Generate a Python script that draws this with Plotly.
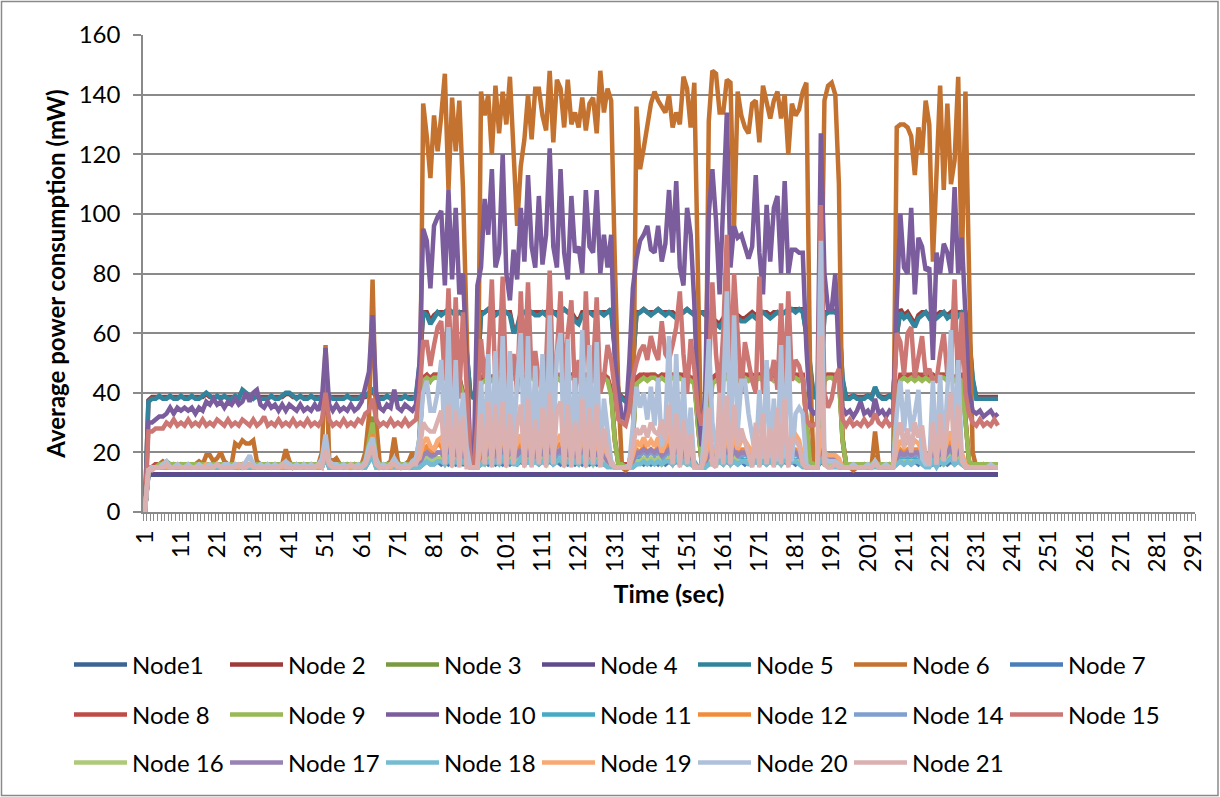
import plotly.graph_objects as go

# ---------------- data ----------------
time_sec = list(range(1, 238))
x_tick_labels = ["1", "11", "21", "31", "41", "51", "61", "71", "81", "91", "101", "111", "121",
                 "131", "141", "151", "161", "171", "181", "191", "201", "211", "221", "231",
                 "241", "251", "261", "271", "281", "291"]
y_tick_values = [0, 20, 40, 60, 80, 100, 120, 140, 160]

node1 = [0,
    12.5, 12.5, 12.5, 12.5, 12.5, 12.5, 12.5, 12.5, 12.5, 12.5,
    12.5, 12.5, 12.5, 12.5, 12.5, 12.5, 12.5, 12.5, 12.5, 12.5,
    12.5, 12.5, 12.5, 12.5, 12.5, 12.5, 12.5, 12.5, 12.5, 12.5,
    12.5, 12.5, 12.5, 12.5, 12.5, 12.5, 12.5, 12.5, 12.5, 12.5,
    12.5, 12.5, 12.5, 12.5, 12.5, 12.5, 12.5, 12.5, 12.5, 12.5,
    12.5, 12.5, 12.5, 12.5, 12.5, 12.5, 12.5, 12.5, 12.5, 12.5,
    12.5, 12.5, 12.5, 12.5, 12.5, 12.5, 12.5, 12.5, 12.5, 12.5,
    12.5, 12.5, 12.5, 12.5, 12.5, 12.5, 12.5, 12.5, 12.5, 12.5,
    12.5, 12.5, 12.5, 12.5, 12.5, 12.5, 12.5, 12.5, 12.5, 12.5,
    12.5, 12.5, 12.5, 12.5, 12.5, 12.5, 12.5, 12.5, 12.5, 12.5,
    12.5, 12.5, 12.5, 12.5, 12.5, 12.5, 12.5, 12.5, 12.5, 12.5,
    12.5, 12.5, 12.5, 12.5, 12.5, 12.5, 12.5, 12.5, 12.5, 12.5,
    12.5, 12.5, 12.5, 12.5, 12.5, 12.5, 12.5, 12.5, 12.5, 12.5,
    12.5, 12.5, 12.5, 12.5, 12.5, 12.5, 12.5, 12.5, 12.5, 12.5,
    12.5, 12.5, 12.5, 12.5, 12.5, 12.5, 12.5, 12.5, 12.5, 12.5,
    12.5, 12.5, 12.5, 12.5, 12.5, 12.5, 12.5, 12.5, 12.5, 12.5,
    12.5, 12.5, 12.5, 12.5, 12.5, 12.5, 12.5, 12.5, 12.5, 12.5,
    12.5, 12.5, 12.5, 12.5, 12.5, 12.5, 12.5, 12.5, 12.5, 12.5,
    12.5, 12.5, 12.5, 12.5, 12.5, 12.5, 12.5, 12.5, 12.5, 12.5,
    12.5, 12.5, 12.5, 12.5, 12.5, 12.5, 12.5, 12.5, 12.5, 12.5,
    12.5, 12.5, 12.5, 12.5, 12.5, 12.5, 12.5, 12.5, 12.5, 12.5,
    12.5, 12.5, 12.5, 12.5, 12.5, 12.5, 12.5, 12.5, 12.5, 12.5,
    12.5, 12.5, 12.5, 12.5, 12.5, 12.5, 12.5, 12.5, 12.5, 12.5,
    12.5, 12.5, 12.5, 12.5, 12.5, 12.5]

node2 = [0,
    37.5, 38.6, 38.6, 38.6, 38.6, 38.6, 38.6, 38.6, 38.6, 38.6, 38.6, 38.6, 38.6, 38.6,
    38.6, 38.6, 39.6, 38.6, 38.6, 38.6, 38.6, 38.6, 38.6, 38.6,
    38.6, 38.6, 40.6, 39.6, 38.6, 38.6, 38.6, 38.6, 38.6, 38.6,
    38.6, 38.6, 38.6, 38.6, 39.6, 39.6, 38.6, 38.6, 38.6, 38.6,
    38.6, 38.6, 38.6, 38.6, 38.6, 40.6, 38.6, 38.6, 38.6, 38.6,
    38.6, 38.6, 38.6, 38.6, 38.6, 38.6, 38.6, 39.6, 40.6, 38.6,
    38.6, 38.6, 38.6, 38.6, 38.6, 38.6, 38.6, 38.6, 38.6, 38.6, 38.6,
    48, 67, 67, 64, 66, 67, 67, 67, 68, 67, 67, 67, 67, 54, 40,
    38.6, 44,
    67, 67, 68, 67, 67, 67, 67, 67, 67, 61, 62, 67, 67, 67, 67, 67, 67, 67, 67, 68,
    67, 67, 67, 68, 67, 67, 65, 64, 67, 67, 67, 67, 67, 67, 67, 67, 68, 54,
    40, 38.6, 38, 38.6, 49,
    67, 67, 68, 67, 67, 67, 68, 67, 67, 67, 67, 66, 67, 67, 68, 67, 67, 67,
    67, 67, 66,
    65, 64, 63, 65, 67, 67, 67, 66, 65, 65, 66, 67, 66, 67, 67, 67, 66, 67, 67, 67,
    67, 68, 68, 68, 68, 68, 59, 49,
    38.6, 38.6,
    44, 67, 67, 68, 67, 67, 44,
    38.6, 38.6, 39, 38.6, 38.6, 38.6, 39, 38.6, 41.6, 39, 38.6, 38.6, 39, 38.6,
    59, 68, 66, 67, 65, 63, 66, 67, 67, 66, 67, 66, 67, 67, 66, 67, 65, 67, 67, 67, 59, 44,
    38.6, 38.6, 38.6, 38.6, 38.6, 38.6, 38.6]

node3 = [0,
    15, 15, 16, 16, 16, 17, 16, 16, 16, 16, 16, 16, 16, 16,
    16, 16, 16, 16, 16, 16, 16, 16, 16, 16,
    16, 16, 16, 16, 16, 16, 16, 16, 16, 16,
    16, 16, 16, 16, 16, 16, 16, 16, 16, 16,
    16, 16, 16, 16, 17, 22, 16, 16, 16, 16,
    16, 16, 16, 16, 16, 16, 18, 25, 32, 17,
    16, 16, 16, 16, 17, 16, 16, 16, 16, 16, 17,
    25, 45, 46, 44, 46, 46, 45, 46, 46, 45, 46, 45, 40, 25, 16,
    16, 16,
    44, 45, 46, 45, 46, 45, 46, 46, 45, 46, 45, 46, 45, 46, 46, 45, 46, 45, 46, 46,
    45, 46, 45, 46, 45, 46, 46, 45, 46, 45, 46, 45, 46, 45, 46, 45, 40, 25,
    16, 16, 15, 16, 25,
    44, 45, 46, 45, 46, 46, 45, 46, 45, 46, 46, 45, 46, 45, 46, 45, 44, 30,
    17, 16, 30,
    44, 45, 46, 45, 46, 45, 46, 45, 46, 46, 45, 46, 45, 46, 45, 46, 46, 45, 46, 45,
    46, 45, 46, 46, 45, 46, 30, 17,
    16, 16,
    30, 45, 46, 46, 45, 46, 25,
    16, 16, 16, 16, 16, 16, 16, 16, 18, 16, 16, 16, 16, 16,
    40, 45, 46, 45, 46, 45, 46, 45, 46, 45, 46, 45, 46, 46, 45, 46, 45, 46, 45, 30, 17, 16,
    16, 16, 16, 16, 16, 16, 16]

node4 = [0,
    12.7, 12.7, 12.7, 12.7, 12.7, 12.7, 12.7, 12.7, 12.7, 12.7,
    12.7, 12.7, 12.7, 12.7, 12.7, 12.7, 12.7, 12.7, 12.7, 12.7,
    12.7, 12.7, 12.7, 12.7, 12.7, 12.7, 12.7, 12.7, 12.7, 12.7,
    12.7, 12.7, 12.7, 12.7, 12.7, 12.7, 12.7, 12.7, 12.7, 12.7,
    12.7, 12.7, 12.7, 12.7, 12.7, 12.7, 12.7, 12.7, 12.7, 12.7,
    12.7, 12.7, 12.7, 12.7, 12.7, 12.7, 12.7, 12.7, 12.7, 12.7,
    12.7, 12.7, 12.7, 12.7, 12.7, 12.7, 12.7, 12.7, 12.7, 12.7,
    12.7, 12.7, 12.7, 12.7, 12.7, 12.7, 12.7, 12.7, 12.7, 12.7,
    12.7, 12.7, 12.7, 12.7, 12.7, 12.7, 12.7, 12.7, 12.7, 12.7,
    12.7, 12.7, 12.7, 12.7, 12.7, 12.7, 12.7, 12.7, 12.7, 12.7,
    12.7, 12.7, 12.7, 12.7, 12.7, 12.7, 12.7, 12.7, 12.7, 12.7,
    12.7, 12.7, 12.7, 12.7, 12.7, 12.7, 12.7, 12.7, 12.7, 12.7,
    12.7, 12.7, 12.7, 12.7, 12.7, 12.7, 12.7, 12.7, 12.7, 12.7,
    12.7, 12.7, 12.7, 12.7, 12.7, 12.7, 12.7, 12.7, 12.7, 12.7,
    12.7, 12.7, 12.7, 12.7, 12.7, 12.7, 12.7, 12.7, 12.7, 12.7,
    12.7, 12.7, 12.7, 12.7, 12.7, 12.7, 12.7, 12.7, 12.7, 12.7,
    12.7, 12.7, 12.7, 12.7, 12.7, 12.7, 12.7, 12.7, 12.7, 12.7,
    12.7, 12.7, 12.7, 12.7, 12.7, 12.7, 12.7, 12.7, 12.7, 12.7,
    12.7, 12.7, 12.7, 12.7, 12.7, 12.7, 12.7, 12.7, 12.7, 12.7,
    12.7, 12.7, 12.7, 12.7, 12.7, 12.7, 12.7, 12.7, 12.7, 12.7,
    12.7, 12.7, 12.7, 12.7, 12.7, 12.7, 12.7, 12.7, 12.7, 12.7,
    12.7, 12.7, 12.7, 12.7, 12.7, 12.7, 12.7, 12.7, 12.7, 12.7,
    12.7, 12.7, 12.7, 12.7, 12.7, 12.7, 12.7, 12.7, 12.7, 12.7,
    12.7, 12.7, 12.7, 12.7, 12.7, 12.7]

node5 = [0,
    37, 38, 38, 39, 38, 38, 39, 38, 38, 39, 38, 38, 39, 38,
    38, 39, 40, 39, 38, 39, 38, 39, 38, 38,
    39, 38, 41, 40, 39, 38, 39, 38, 38, 38,
    39, 38, 38, 39, 40, 40, 39, 38, 39, 38,
    38, 39, 38, 38, 39, 41, 39, 38, 38, 38,
    38, 39, 38, 38, 38, 39, 39, 40, 41, 39,
    38, 38, 39, 38, 39, 38, 38, 39, 38, 38, 39,
    50, 67, 66, 63, 65, 67, 66, 67, 68, 67, 66, 67, 66, 55, 40,
    38, 45,
    66, 67, 68, 67, 66, 67, 66, 67, 66, 60, 62, 66, 67, 66, 67, 66, 66, 67, 66, 68,
    67, 66, 67, 68, 67, 66, 64, 63, 66, 67, 67, 66, 67, 67, 66, 67, 68, 55,
    40, 38, 37, 38, 50,
    66, 67, 68, 67, 66, 67, 68, 67, 66, 67, 66, 65, 66, 67, 68, 67, 66, 67,
    67, 66, 65,
    64, 63, 62, 64, 66, 67, 66, 65, 64, 64, 65, 66, 65, 66, 67, 66, 65, 66, 67, 66,
    67, 67, 68, 67, 68, 67, 60, 50,
    39, 38,
    45, 66, 67, 67, 67, 66, 45,
    38, 38, 39, 38, 38, 38, 39, 38, 42, 39, 38, 38, 39, 38,
    60, 67, 65, 66, 64, 62, 65, 66, 67, 65, 66, 65, 66, 67, 65, 66, 64, 66, 67, 66, 60, 45,
    38, 38, 38, 38, 38, 38, 38]

node6 = [0,
    15, 15, 16, 16, 17, 16, 15, 16, 15, 16, 15, 16, 15, 16,
    17, 16, 19, 19, 17, 18, 20, 17, 16, 16,
    23, 22, 24, 23, 23, 24, 17, 16, 15, 16,
    15, 16, 15, 16, 21, 17, 15, 16, 15, 16,
    15, 16, 15, 16, 20, 56, 18, 17, 18, 16,
    15, 16, 15, 16, 15, 16, 20, 32, 78, 30,
    16, 15, 16, 17, 25, 17, 15, 16, 17, 20, 16,
    20, 137, 126, 112, 133, 121, 133, 147, 108, 139, 121, 138, 109, 55, 16,
    15, 16,
    141, 133, 140, 120, 143, 127, 141, 130, 146, 117, 96, 116, 125, 140, 125, 142, 142, 133, 128, 148,
    124, 145, 142, 129, 145, 130, 134, 129, 139, 128, 137, 139, 127, 148, 134, 142, 138, 85,
    40, 15, 14, 15, 16,
    136, 115, 122, 129, 137, 141, 138, 136, 134, 140, 129, 134, 130, 146, 142, 129, 144, 80,
    16, 15, 131,
    148, 147, 134, 134, 145, 144, 96, 141, 133, 129, 127, 137, 138, 124, 143, 138, 132, 138, 141, 132,
    140, 120, 137, 133, 135, 141, 144, 50,
    15, 15,
    60, 138, 143, 144, 140, 110, 25,
    15, 15, 14, 15, 15, 16, 15, 15, 27, 16, 15, 15, 16, 15,
    129, 130, 130, 129, 126, 113, 129, 120, 138, 130, 84, 113, 143, 108, 137, 110, 118, 146, 81, 141, 75, 20,
    15, 15, 16, 15, 15, 15, 15]

node7 = [0,
    14, 15, 15, 15, 15, 15, 15, 15, 15, 15, 15, 15, 15, 15,
    15, 15, 15, 15, 15, 15, 15, 15, 15, 15,
    15, 15, 15, 15, 15, 15, 15, 15, 15, 15,
    15, 15, 15, 15, 15, 15, 15, 15, 15, 15,
    15, 15, 15, 15, 15, 18, 15, 15, 15, 15,
    15, 15, 15, 15, 15, 15, 15, 17, 19, 15,
    15, 15, 15, 15, 15, 15, 15, 15, 15, 15, 15,
    15, 16, 17, 16, 16, 17, 16, 17, 16, 17, 16, 17, 16, 16, 15,
    15, 15,
    16, 17, 16, 17, 16, 17, 16, 17, 16, 17, 16, 17, 16, 17, 16, 17, 16, 17, 16, 17,
    16, 17, 16, 17, 16, 17, 16, 17, 16, 17, 16, 17, 16, 17, 16, 17, 16, 15,
    15, 15, 15, 15, 15,
    16, 17, 16, 17, 16, 17, 16, 17, 16, 17, 16, 17, 16, 17, 16, 17, 16, 15,
    15, 15, 16,
    17, 16, 17, 16, 17, 16, 17, 16, 17, 16, 17, 16, 17, 16, 17, 16, 17, 16, 17, 16,
    17, 16, 17, 16, 17, 16, 15, 15,
    15, 15,
    17, 16, 16, 16, 16, 15, 15,
    15, 15, 15, 15, 15, 15, 15, 15, 16, 15, 15, 15, 15, 15,
    16, 17, 16, 17, 16, 17, 16, 17, 16, 17, 16, 17, 16, 17, 16, 17, 16, 17, 16, 15, 15, 15,
    15, 15, 15, 15, 15, 15, 15]

node8 = [0,
    15, 15, 16, 16, 16, 16, 16, 16, 16, 16, 16, 16, 16, 16,
    16, 16, 16, 16, 16, 16, 16, 16, 16, 16,
    16, 16, 16, 16, 16, 16, 16, 16, 16, 16,
    16, 16, 16, 16, 16, 16, 16, 16, 16, 16,
    16, 16, 16, 16, 16, 20, 16, 16, 16, 16,
    16, 16, 16, 16, 16, 16, 17, 22, 28, 16,
    16, 16, 16, 16, 16, 16, 16, 16, 16, 16, 16,
    24, 45, 46, 45, 46, 46, 45, 46, 46, 45, 46, 45, 40, 24, 16,
    16, 16,
    45, 46, 46, 45, 46, 46, 46, 46, 45, 46, 46, 46, 45, 46, 46, 46, 46, 45, 46, 46,
    45, 46, 46, 46, 45, 46, 46, 45, 46, 46, 46, 45, 46, 46, 46, 45, 41, 24,
    16, 16, 16, 16, 24,
    45, 46, 46, 46, 46, 46, 45, 46, 46, 46, 46, 45, 46, 46, 46, 45, 45, 29,
    17, 16, 29,
    45, 46, 46, 45, 46, 46, 46, 45, 46, 46, 46, 46, 45, 46, 46, 46, 46, 45, 46, 46,
    46, 45, 46, 46, 46, 46, 30, 17,
    16, 16,
    29, 46, 46, 46, 46, 46, 24,
    16, 16, 16, 16, 16, 16, 16, 16, 17, 16, 16, 16, 16, 16,
    39, 46, 46, 46, 46, 45, 46, 46, 46, 46, 46, 45, 46, 46, 46, 46, 45, 46, 46, 30, 17, 16,
    16, 16, 16, 16, 16, 16, 16]

node9 = [0,
    15, 15, 15, 16, 16, 16, 16, 16, 16, 16, 16, 16, 16, 16,
    16, 16, 16, 16, 16, 16, 16, 16, 16, 16,
    16, 16, 16, 16, 16, 16, 16, 16, 16, 16,
    16, 16, 16, 16, 16, 16, 16, 16, 16, 16,
    16, 16, 16, 16, 17, 21, 16, 16, 16, 16,
    16, 16, 16, 16, 16, 16, 17, 24, 30, 17,
    16, 16, 16, 16, 17, 16, 16, 16, 16, 16, 16,
    24, 44, 45, 44, 45, 45, 44, 45, 45, 44, 45, 44, 39, 24, 16,
    16, 16,
    43, 44, 45, 44, 45, 44, 45, 45, 44, 45, 44, 45, 44, 45, 45, 44, 45, 44, 45, 45,
    44, 45, 44, 45, 44, 45, 45, 44, 45, 44, 45, 44, 45, 44, 45, 44, 39, 24,
    16, 16, 15, 16, 24,
    43, 44, 45, 44, 45, 45, 44, 45, 44, 45, 45, 44, 45, 44, 45, 44, 43, 29,
    17, 16, 29,
    43, 44, 45, 44, 45, 44, 45, 44, 45, 45, 44, 45, 44, 45, 44, 45, 45, 44, 45, 44,
    45, 44, 45, 45, 44, 45, 29, 17,
    16, 16,
    29, 44, 45, 45, 44, 45, 24,
    16, 16, 16, 16, 16, 16, 16, 16, 17, 16, 16, 16, 16, 16,
    39, 44, 45, 44, 45, 44, 45, 44, 45, 44, 45, 44, 45, 45, 44, 45, 44, 45, 44, 29, 17, 16,
    16, 16, 16, 16, 16, 16, 16]

node10 = [0,
    30, 30, 31, 32, 32, 33, 35,
    33, 35, 34, 35, 34, 35, 33, 35, 34,
    37, 36, 38, 36, 37, 35, 37, 36, 38, 36,
    37, 40, 37, 40, 41, 36, 35, 37, 35, 36,
    34, 36, 34, 36, 35, 34, 36, 34, 35, 34,
    36, 34, 38, 55, 36, 34, 36, 34, 35, 34,
    36, 34, 35, 37, 42, 47, 66, 40, 35, 34,
    36, 35, 41, 35, 34, 36, 35, 34, 36,
    50, 95, 91, 75, 96, 99, 101, 76, 108, 78, 102, 73, 80, 51, 20,
    16, 76,
    82, 105, 93, 115, 82, 87, 120, 80, 71, 88, 78, 102, 84, 113, 89, 82, 106, 83, 93, 122,
    89, 82, 115, 87, 78, 106, 87, 89, 80, 108, 89, 87, 108, 80, 93, 82, 93, 51,
    40, 32, 31, 50, 75,
    85, 91, 93, 96, 88, 87, 96, 84, 90, 108, 87, 111, 82, 76, 102, 93, 70, 35,
    22, 40, 100,
    115, 98, 73, 100, 134, 82, 96, 92, 93, 89, 85, 89, 113, 87, 73, 103, 84, 102, 106, 80,
    111, 80, 88, 88, 87, 87, 55, 35,
    33, 34,
    127, 80, 68, 68, 80, 51, 35,
    33, 34, 32, 34, 37, 33, 34, 32, 38, 33, 34, 32, 34, 33,
    70, 100, 82, 80, 102, 73, 92, 89, 81, 82, 51, 87, 80, 90, 87, 80, 109, 80, 92, 66, 40, 34,
    33, 34, 32, 33, 34, 32, 33]

node11 = [0,
    14, 15, 15, 15, 16, 15, 15, 15, 15, 15, 15, 15, 15, 15,
    15, 15, 15, 15, 15, 16, 15, 15, 15, 15,
    15, 15, 15, 15, 16, 15, 15, 15, 15, 15,
    15, 15, 15, 15, 15, 15, 15, 15, 15, 15,
    15, 15, 15, 15, 15, 19, 15, 15, 15, 15,
    15, 15, 15, 15, 15, 15, 15, 18, 20, 15,
    15, 15, 15, 15, 16, 15, 15, 15, 15, 15, 15,
    16, 17, 18, 17, 17, 18, 17, 18, 17, 18, 17, 18, 17, 16, 15,
    15, 15,
    17, 18, 17, 18, 17, 18, 17, 18, 17, 18, 17, 18, 17, 18, 17, 18, 17, 18, 17, 18,
    17, 18, 17, 18, 17, 18, 17, 18, 17, 18, 17, 18, 17, 18, 17, 18, 16, 15,
    15, 15, 15, 15, 16,
    17, 18, 17, 18, 17, 18, 17, 18, 17, 18, 17, 18, 17, 18, 17, 18, 17, 15,
    15, 15, 17,
    18, 17, 18, 17, 18, 17, 18, 17, 18, 17, 18, 17, 18, 17, 18, 17, 18, 17, 18, 17,
    18, 17, 18, 17, 18, 17, 16, 15,
    15, 15,
    18, 17, 17, 17, 17, 16, 15,
    15, 15, 15, 15, 15, 15, 15, 15, 16, 15, 15, 15, 15, 15,
    17, 18, 17, 18, 17, 18, 17, 18, 17, 18, 17, 18, 17, 18, 17, 18, 17, 18, 17, 16, 15, 15,
    15, 15, 15, 15, 15, 15, 15]

node12 = [0,
    14, 15, 15, 15, 16, 15, 15, 15, 15, 15, 15, 15, 15, 15,
    15, 15, 16, 15, 15, 16, 15, 15, 15, 15,
    16, 15, 16, 15, 15, 16, 15, 15, 15, 15,
    15, 15, 15, 15, 16, 15, 15, 15, 15, 15,
    15, 15, 15, 15, 16, 24, 16, 15, 15, 15,
    15, 15, 15, 15, 15, 15, 16, 20, 26, 16,
    15, 15, 15, 15, 17, 15, 15, 15, 15, 16, 16,
    17, 21, 22, 20, 21, 23, 22, 19, 24, 19, 23, 19, 22, 18, 15,
    15, 15,
    22, 19, 23, 19, 22, 20, 24, 19, 23, 20, 21, 24, 19, 23, 19, 22, 20, 23, 19, 24,
    20, 22, 23, 19, 23, 19, 21, 19, 24, 19, 23, 19, 22, 19, 21, 18, 17, 15,
    15, 15, 15, 15, 18,
    21, 20, 22, 20, 21, 20, 22, 19, 21, 23, 19, 22, 19, 21, 19, 20, 16, 15,
    15, 17, 22,
    20, 19, 21, 19, 24, 19, 23, 20, 21, 21, 20, 19, 21, 19, 22, 19, 21, 19, 22, 19,
    23, 19, 21, 21, 20, 17, 15, 15,
    15, 15,
    26, 19, 18, 18, 18, 17, 15,
    15, 15, 15, 15, 15, 15, 15, 15, 17, 15, 15, 15, 15, 15,
    19, 21, 20, 21, 20, 21, 21, 19, 18, 18, 21, 18, 22, 19, 21, 24, 19, 22, 19, 16, 15, 15,
    15, 15, 15, 15, 15, 15, 15]

node14 = [0,
    14, 15, 15, 15, 15, 15, 15, 15, 15, 15, 15, 15, 15, 15,
    15, 15, 15, 15, 15, 15, 15, 15, 15, 15,
    15, 15, 15, 15, 15, 15, 15, 15, 15, 15,
    15, 15, 15, 15, 15, 15, 15, 15, 15, 15,
    15, 15, 15, 15, 16, 21, 15, 15, 15, 15,
    15, 15, 15, 15, 15, 15, 16, 19, 23, 16,
    15, 15, 15, 15, 16, 15, 15, 15, 15, 15, 16,
    16, 19, 20, 18, 19, 20, 20, 18, 20, 18, 20, 18, 19, 17, 15,
    15, 15,
    19, 18, 20, 18, 19, 18, 20, 18, 20, 18, 19, 20, 18, 20, 18, 19, 18, 20, 18, 20,
    18, 19, 20, 18, 20, 18, 19, 18, 20, 18, 20, 18, 20, 18, 19, 17, 16, 15,
    15, 15, 15, 15, 17,
    19, 19, 20, 19, 20, 19, 20, 18, 19, 20, 18, 20, 18, 19, 18, 19, 16, 15,
    15, 16, 19,
    19, 18, 19, 18, 20, 18, 20, 18, 19, 19, 19, 18, 19, 18, 20, 18, 19, 18, 20, 18,
    20, 18, 19, 19, 19, 17, 15, 15,
    15, 15,
    22, 18, 17, 17, 17, 16, 15,
    15, 15, 15, 15, 15, 15, 15, 15, 16, 15, 15, 15, 15, 15,
    18, 19, 19, 19, 19, 19, 19, 18, 17, 17, 19, 17, 20, 18, 19, 21, 18, 20, 18, 16, 15, 15,
    15, 15, 15, 15, 15, 15, 15]

node15 = [0,
    27, 27, 28, 28, 28,
    30, 29, 31, 29, 30, 29, 31, 29, 30, 29,
    31, 29, 30, 29, 31, 30, 29, 31, 29, 30,
    29, 31, 30, 29, 31, 29, 30, 32, 29, 30,
    29, 31, 29, 30, 29, 31, 29, 30, 29, 31,
    29, 30, 29, 31, 40, 31, 29, 30, 29, 31,
    29, 30, 29, 31, 30, 33, 34, 38, 31, 29,
    30, 29, 31, 29, 30, 29, 31, 29, 30, 31,
    40, 57, 57, 49, 56, 62, 64, 44, 75, 40, 72, 38, 67, 40, 18,
    15, 30,
    58, 45, 53, 78, 42, 51, 79, 40, 45, 53, 40, 74, 46, 77, 45, 54, 44, 40, 50, 81,
    42, 53, 74, 42, 60, 71, 40, 51, 38, 74, 42, 48, 72, 40, 45, 56, 51, 40,
    31, 30, 29, 34, 45,
    50, 54, 56, 51, 59, 54, 51, 64, 53, 51, 56, 62, 74, 53, 40, 58, 48, 34,
    29, 35, 45,
    77, 53, 40, 60, 93, 42, 80, 60, 40, 57, 51, 44, 40, 79, 40, 49, 44, 51, 41, 70,
    40, 74, 44, 51, 49, 44, 31, 29,
    29, 30,
    103, 40, 35, 38, 45, 48, 31,
    29, 31, 29, 30, 29, 31, 29, 30, 33, 30, 29, 31, 29, 30,
    60, 57, 46, 60, 62, 45, 53, 59, 46, 48, 44, 44, 53, 60, 46, 48, 78, 40, 67, 40, 33, 30,
    29, 31, 29, 30, 29, 31, 29]

node16 = [0,
    14, 15, 15, 15, 15, 15, 15, 15, 15, 15, 15, 15, 15, 15,
    15, 15, 15, 15, 15, 15, 15, 15, 15, 15,
    15, 15, 15, 15, 15, 15, 15, 15, 15, 15,
    15, 15, 15, 15, 15, 15, 15, 15, 15, 15,
    15, 15, 15, 15, 16, 19, 15, 15, 15, 15,
    15, 15, 15, 15, 15, 15, 16, 19, 21, 15,
    15, 15, 15, 15, 15, 15, 15, 15, 15, 15, 15,
    16, 17, 18, 17, 17, 18, 18, 16, 18, 16, 18, 16, 17, 16, 15,
    15, 15,
    17, 16, 18, 16, 17, 17, 18, 16, 18, 17, 17, 18, 16, 18, 16, 17, 17, 18, 16, 18,
    17, 17, 18, 16, 18, 16, 17, 16, 18, 16, 18, 16, 18, 16, 17, 16, 16, 15,
    15, 15, 15, 15, 16,
    17, 17, 18, 17, 18, 17, 18, 16, 17, 18, 16, 18, 16, 17, 16, 17, 15, 15,
    15, 15, 17,
    17, 16, 17, 16, 18, 16, 18, 17, 17, 17, 17, 16, 17, 16, 18, 16, 17, 16, 18, 16,
    18, 16, 17, 17, 17, 16, 15, 15,
    15, 15,
    20, 16, 16, 16, 16, 15, 15,
    15, 15, 15, 15, 15, 15, 15, 15, 16, 15, 15, 15, 15, 15,
    16, 17, 17, 17, 17, 17, 17, 16, 16, 16, 17, 16, 18, 16, 17, 19, 16, 18, 16, 15, 15, 15,
    15, 15, 15, 15, 15, 15, 15]

node17 = [0,
    14, 15, 15, 15, 15, 15, 15, 15, 15, 15, 15, 15, 15, 15,
    15, 15, 15, 15, 15, 15, 15, 15, 15, 15,
    15, 15, 15, 15, 15, 15, 15, 15, 15, 15,
    15, 15, 15, 15, 15, 15, 15, 15, 15, 15,
    15, 15, 15, 15, 16, 20, 15, 15, 15, 15,
    15, 15, 15, 15, 15, 15, 16, 19, 22, 16,
    15, 15, 15, 15, 16, 15, 15, 15, 15, 15, 16,
    16, 19, 20, 19, 19, 20, 20, 18, 21, 18, 20, 18, 20, 17, 15,
    15, 15,
    20, 18, 21, 18, 20, 19, 21, 18, 20, 19, 19, 21, 18, 20, 18, 20, 19, 20, 18, 21,
    19, 20, 21, 18, 20, 18, 20, 18, 21, 18, 20, 18, 20, 18, 19, 17, 16, 15,
    15, 15, 15, 15, 17,
    20, 20, 21, 20, 21, 20, 21, 19, 20, 21, 19, 21, 19, 20, 19, 19, 16, 15,
    15, 16, 20,
    19, 18, 20, 18, 21, 18, 21, 19, 20, 20, 19, 18, 20, 18, 21, 18, 20, 18, 21, 18,
    21, 18, 20, 20, 19, 17, 15, 15,
    15, 15,
    23, 18, 18, 18, 18, 17, 15,
    15, 15, 15, 15, 15, 15, 15, 15, 16, 15, 15, 15, 15, 15,
    18, 20, 19, 20, 19, 20, 20, 18, 17, 17, 20, 17, 21, 18, 20, 22, 18, 21, 18, 16, 15, 15,
    15, 15, 15, 15, 15, 15, 15]

node18 = [0,
    14, 15, 15, 15, 15, 15, 15, 15, 15, 15, 15, 15, 15, 15,
    15, 15, 15, 15, 15, 15, 15, 15, 15, 15,
    15, 15, 15, 15, 15, 15, 15, 15, 15, 15,
    15, 15, 15, 15, 15, 15, 15, 15, 15, 15,
    15, 15, 15, 15, 15, 18, 15, 15, 15, 15,
    15, 15, 15, 15, 15, 15, 15, 17, 18, 15,
    15, 15, 15, 15, 15, 15, 15, 15, 15, 15, 15,
    15, 16, 17, 16, 16, 17, 17, 16, 18, 16, 17, 16, 17, 16, 15,
    15, 15,
    16, 16, 17, 16, 17, 16, 18, 16, 17, 16, 16, 18, 16, 17, 16, 17, 16, 17, 16, 18,
    16, 17, 18, 16, 17, 16, 17, 16, 18, 16, 17, 16, 17, 16, 16, 15, 15, 15,
    15, 15, 15, 15, 15,
    16, 16, 17, 16, 17, 16, 17, 16, 17, 17, 16, 18, 16, 17, 16, 16, 15, 15,
    15, 15, 16,
    16, 16, 17, 16, 18, 16, 17, 16, 17, 17, 16, 16, 17, 16, 17, 16, 17, 16, 17, 16,
    18, 16, 17, 17, 16, 15, 15, 15,
    15, 15,
    18, 16, 15, 15, 15, 15, 15,
    15, 15, 15, 15, 15, 15, 15, 15, 15, 15, 15, 15, 15, 15,
    16, 17, 16, 17, 16, 17, 17, 16, 15, 15, 17, 15, 17, 16, 17, 18, 16, 17, 16, 15, 15, 15,
    15, 15, 15, 15, 15, 15, 15]

node19 = [0,
    14, 15, 15, 15, 16, 15, 15, 15, 16, 15, 15, 15, 15, 15,
    15, 15, 16, 15, 15, 16, 15, 15, 15, 15,
    16, 15, 16, 15, 16, 16, 15, 15, 15, 15,
    15, 15, 15, 15, 16, 15, 15, 15, 15, 15,
    15, 15, 15, 15, 17, 23, 16, 15, 15, 15,
    15, 15, 15, 15, 15, 15, 16, 20, 24, 16,
    15, 15, 15, 15, 17, 15, 15, 15, 15, 16, 17,
    18, 23, 25, 22, 21, 24, 25, 20, 26, 20, 25, 20, 24, 19, 15,
    15, 15,
    24, 20, 25, 20, 24, 21, 26, 20, 25, 21, 23, 26, 20, 25, 20, 24, 21, 25, 20, 27,
    21, 24, 26, 20, 25, 20, 23, 20, 26, 20, 25, 19, 24, 19, 22, 19, 17, 15,
    15, 15, 15, 15, 19,
    24, 22, 25, 22, 24, 22, 25, 20, 23, 26, 20, 25, 20, 24, 20, 22, 16, 15,
    15, 18, 24,
    22, 20, 24, 20, 27, 20, 26, 21, 24, 24, 22, 20, 23, 20, 25, 20, 23, 20, 25, 20,
    26, 20, 24, 26, 24, 18, 15, 15,
    15, 15,
    28, 20, 19, 19, 19, 18, 15,
    15, 15, 15, 15, 15, 15, 15, 15, 17, 15, 15, 15, 15, 15,
    21, 24, 22, 24, 22, 24, 23, 20, 19, 19, 24, 19, 25, 20, 24, 27, 20, 25, 20, 16, 15, 15,
    15, 15, 15, 15, 15, 15, 15]

node20 = [0,
    14, 15, 15, 15, 16, 17, 15, 15, 16, 15, 15, 16, 15, 15,
    16, 15, 15, 16, 15, 16, 15, 16, 16, 15,
    16, 16, 15, 17, 19, 16, 15, 16, 15, 16,
    15, 16, 15, 16, 17, 16, 15, 16, 15, 16,
    15, 16, 15, 16, 18, 26, 17, 16, 16, 15,
    16, 15, 16, 15, 16, 15, 17, 22, 25, 18,
    15, 16, 15, 16, 18, 16, 15, 16, 15, 17, 18,
    25, 40, 44, 34, 34, 40, 51, 22, 62, 18, 51, 18, 40, 22, 15,
    15, 15,
    44, 22, 53, 18, 54, 21, 59, 18, 54, 22, 44, 60, 18, 59, 18, 49, 22, 53, 18, 66,
    21, 53, 60, 18, 58, 18, 45, 18, 61, 18, 56, 17, 57, 16, 38, 27, 17, 15,
    15, 15, 15, 16, 30,
    42, 35, 40, 31, 42, 29, 45, 22, 29, 59, 18, 53, 18, 45, 18, 35, 15, 15,
    15, 30, 58,
    30, 22, 18, 40, 74, 18, 66, 27, 44, 44, 33, 25, 18, 41, 18, 51, 18, 38, 17, 56,
    18, 59, 17, 33, 35, 33, 16, 15,
    15, 15,
    91, 18, 17, 17, 17, 16, 15,
    15, 15, 16, 15, 15, 15, 16, 15, 17, 15, 15, 16, 15, 15,
    33, 44, 27, 41, 27, 33, 41, 18, 16, 16, 44, 16, 46, 18, 41, 61, 18, 51, 18, 15, 15, 15,
    15, 15, 15, 15, 16, 15, 15]

node21 = [0,
    14, 14, 15, 15, 15, 16, 15, 15, 15, 15, 15, 15, 15, 15,
    15, 15, 15, 15, 15, 16, 15, 15, 15, 15,
    15, 16, 15, 15, 16, 15, 15, 15, 15, 15,
    15, 15, 15, 16, 15, 15, 15, 15, 15, 15,
    15, 15, 15, 16, 15, 21, 16, 15, 15, 15,
    15, 15, 16, 15, 15, 15, 16, 19, 22, 16,
    15, 15, 15, 16, 16, 15, 15, 15, 15, 16, 16,
    20, 30, 28, 27, 27, 30, 34, 16, 36, 15, 34, 15, 32, 15, 15,
    15, 15,
    33, 16, 37, 15, 36, 16, 37, 15, 33, 16, 29, 36, 15, 38, 15, 31, 16, 35, 15, 40,
    16, 34, 37, 15, 36, 15, 30, 16, 38, 15, 35, 16, 36, 15, 28, 20, 16, 15,
    15, 15, 15, 15, 22,
    28, 26, 29, 25, 30, 27, 26, 31, 24, 36, 16, 33, 15, 31, 16, 26, 15, 15,
    15, 20, 35,
    16, 15, 40, 16, 39, 16, 36, 22, 28, 24, 20, 15, 30, 15, 33, 16, 28, 15, 35, 16,
    38, 15, 25, 24, 22, 16, 15, 15,
    15, 15,
    59, 16, 15, 15, 16, 15, 15,
    15, 15, 15, 15, 15, 15, 15, 15, 16, 15, 15, 15, 15, 15,
    25, 30, 22, 28, 20, 30, 25, 29, 18, 16, 30, 16, 33, 17, 30, 40, 17, 36, 17, 15, 15, 15,
    15, 15, 15, 15, 15, 15, 15]

series_names = ["Node1", "Node 2", "Node 3", "Node 4", "Node 5", "Node 6", "Node 7",
                "Node 8", "Node 9", "Node 10", "Node 11", "Node 12", "Node 14", "Node 15",
                "Node 16", "Node 17", "Node 18", "Node 19", "Node 20", "Node 21"]
series_values = [node1, node2, node3, node4, node5, node6, node7,
                 node8, node9, node10, node11, node12, node14, node15,
                 node16, node17, node18, node19, node20, node21]

# ---------------- styles ----------------
series_colors = ["#3C6494", "#9E3B38", "#7A9A41", "#5F4B8B", "#31849B", "#C4722F", "#4A7EBB",
                 "#BE4B48", "#98B954", "#7B5D9D", "#46AAC5", "#F08C3C", "#7F9FCF", "#CC7774",
                 "#AFC97A", "#9983B5", "#74BCD2", "#F8A875", "#AFC0DA", "#DAB1B0"]
series_legend = ["legend"] * 7 + ["legend2"] * 7 + ["legend3"] * 6

for nm, vals in zip(series_names, series_values):
    if len(vals) != len(time_sec):
        raise ValueError(f"{nm} has {len(vals)} values")

W, H = 1220, 797
ML, MR, MT, MB = 143, 25, 35, 285
PW, PH = W - ML - MR, H - MT - MB
GRID = "#8a8a8a"
FONT = "Lato"


def px_x(x):
    return (x - ML) / PW


def px_y(y):
    return (H - MB - y) / PH


fig = go.Figure()
for nm, vals, col, lg in zip(series_names, series_values, series_colors, series_legend):
    fig.add_trace(go.Scatter(x=time_sec, y=vals, mode="lines", name=nm, legend=lg,
                             line=dict(color=col, width=4.5)))

legend_common = dict(orientation="h", xanchor="left", yanchor="middle",
                     font=dict(family=FONT, size=24, color="black"),
                     bgcolor="rgba(0,0,0,0)", entrywidth=88, entrywidthmode="pixels",
                     itemwidth=53, tracegroupgap=0)

fig.update_layout(
    width=W, height=H,
    margin=dict(l=ML, r=MR, t=MT, b=MB),
    paper_bgcolor="white", plot_bgcolor="white",
    font=dict(family=FONT, color="black"),
    showlegend=True,
    legend=dict(x=px_x(69), y=px_y(665), **legend_common),
    legend2=dict(x=px_x(69), y=px_y(715), **legend_common),
    legend3=dict(x=px_x(69), y=px_y(763), **legend_common),
    xaxis=dict(
        range=[0.5, 291.5], tickmode="array",
        tickvals=[int(t) for t in x_tick_labels], ticktext=x_tick_labels,
        tickangle=-90, tickfont=dict(family=FONT, size=24, color="black"),
        ticks="outside", ticklen=7, tickcolor="rgba(0,0,0,0)",
        showgrid=False, zeroline=False,
        showline=True, linecolor=GRID, linewidth=1.6,
        minor=dict(tickmode="linear", tick0=0.5, dtick=1, ticks="outside", ticklen=7,
                   tickcolor=GRID, tickwidth=1, showgrid=False),
        title=dict(text="<b>Time (sec)</b>", font=dict(family=FONT, size=25, color="black"),
                   standoff=14),
    ),
    yaxis=dict(
        range=[0, 160], tickmode="array", tickvals=y_tick_values,
        tickfont=dict(family=FONT, size=24, color="black"),
        ticks="outside", ticklen=8, tickcolor=GRID, tickwidth=1.6,
        ticklabelstandoff=8,
        showgrid=True, gridcolor=GRID, gridwidth=1.6, zeroline=False,
        showline=True, linecolor=GRID, linewidth=1.6,
        title=dict(text="<b>Average power consumption (mW)</b>",
                   font=dict(family=FONT, size=24, color="black"), standoff=6),
    ),
    shapes=[dict(type="rect", xref="paper", yref="paper",
                 x0=px_x(1.5), x1=px_x(1218), y0=px_y(795.5), y1=px_y(1.5),
                 line=dict(color=GRID, width=1.5), fillcolor="rgba(0,0,0,0)", layer="below")],
)

fig.write_html("out.html", config={"displayModeBar": False},
               post_script="document.body.style.margin='0';document.body.style.overflow='hidden';")
